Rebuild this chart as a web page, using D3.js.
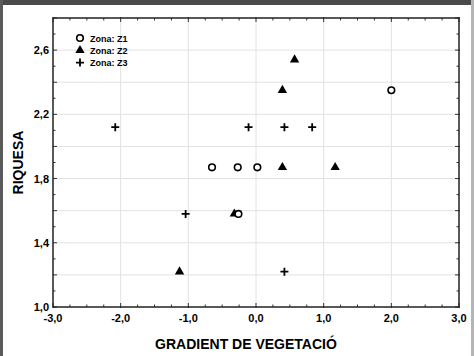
<!DOCTYPE html>
<html><head><meta charset="utf-8">
<script src="https://cdn.jsdelivr.net/npm/d3@7"></script>
<style>body{margin:0;background:#fff}svg{display:block}</style>
</head><body>
<script>
const z1X = [2.0, -0.65, -0.27, 0.02, -0.26];
const z1Y = [2.35, 1.87, 1.87, 1.87, 1.58];
const z2X = [0.57, 0.39, 0.39, 1.17, -0.32, -1.13];
const z2Y = [2.54, 2.35, 1.87, 1.87, 1.58, 1.22];
const z3X = [-2.08, -0.11, 0.42, 0.83, -1.04, 0.42];
const z3Y = [2.12, 2.12, 2.12, 2.12, 1.58, 1.22];
const xTicks = [-3, -2, -1, 0, 1, 2, 3];
const yTicks = [1.0, 1.4, 1.8, 2.2, 2.6];
const legendLabels = ["Zona: Z1", "Zona: Z2", "Zona: Z3"];

const W = 474, H = 356;
const svg = d3.select("body").append("svg").attr("width", W).attr("height", H);
svg.append("rect").attr("x",0).attr("y",0).attr("width",W).attr("height",5).attr("fill","#4a4a4a");
svg.append("rect").attr("x",0).attr("y",0).attr("width",3).attr("height",H).attr("fill","#5a5a5a");
svg.append("rect").attr("x",471).attr("y",0).attr("width",3).attr("height",H).attr("fill","#b5b5b5");

const L = 53, R = 459, T = 18, B = 307;
const x = d3.scaleLinear().domain([-3, 3]).range([L, R]);
const y = d3.scaleLinear().domain([1.0, 2.8]).range([B, T]);

const fmt = d => d.toFixed(1).replace(".", ",");
const g = svg.append("g");
g.selectAll(".gx").data(d3.range(-2, 3, 1)).join("line")
  .attr("x1", d => x(d)).attr("x2", d => x(d)).attr("y1", T).attr("y2", B)
  .attr("stroke", "#e2e2e2").attr("stroke-width", 1);
g.selectAll(".gy").data(d3.range(1.2, 2.79, 0.2)).join("line")
  .attr("y1", d => y(d)).attr("y2", d => y(d)).attr("x1", L).attr("x2", R)
  .attr("stroke", "#e2e2e2").attr("stroke-width", 1);

const xMinor = d3.range(-3, 3.001, 0.25);
const yMinor = d3.range(1.0, 2.801, 0.1);
const isMajX = d => Math.abs(d - Math.round(d)) < 1e-6;
const isMajY = d => Math.abs(d*5 - Math.round(d*5)) < 1e-6;
xMinor.forEach(d => {
  const len = isMajX(d) ? 4 : 2.5;
  g.append("line").attr("x1", x(d)).attr("x2", x(d)).attr("y1", B - len).attr("y2", B + (isMajX(d)?1:0)).attr("stroke","#333");
  g.append("line").attr("x1", x(d)).attr("x2", x(d)).attr("y1", T + len).attr("y2", T - (isMajX(d)?1:0)).attr("stroke","#333");
});
yMinor.forEach(d => {
  const len = isMajY(d) ? 4 : 2.5;
  g.append("line").attr("y1", y(d)).attr("y2", y(d)).attr("x1", L).attr("x2", L + len).attr("stroke","#333");
  g.append("line").attr("y1", y(d)).attr("y2", y(d)).attr("x1", R - len).attr("x2", R + (isMajY(d)?1:0)).attr("stroke","#333");
});
g.append("rect").attr("x", L).attr("y", T).attr("width", R - L).attr("height", B - T)
  .attr("fill", "none").attr("stroke", "#222").attr("stroke-width", 1.5);

const font = "Liberation Sans, Arial, sans-serif";
g.selectAll(".xl").data(xTicks).join("text")
  .attr("x", d => x(d)).attr("y", B + 15).attr("text-anchor", "middle")
  .attr("font-family", font).attr("font-weight", "bold").attr("font-size", 11).text(fmt);
g.selectAll(".yl").data(yTicks).join("text")
  .attr("x", L - 4).attr("y", d => y(d) + 4).attr("text-anchor", "end")
  .attr("font-family", font).attr("font-weight", "bold").attr("font-size", 11).text(fmt);

svg.append("text").attr("x", (L + R) / 2 - 10).attr("y", 349).attr("text-anchor", "middle")
  .attr("font-family", font).attr("font-weight", "bold").attr("font-size", 14).text("GRADIENT DE VEGETACIÓ");
svg.append("text").attr("transform", `translate(23,${(T + B) / 2}) rotate(-90)`).attr("text-anchor", "middle")
  .attr("font-family", font).attr("font-weight", "bold").attr("font-size", 14).text("RIQUESA");

const tri = d3.symbol().type(d3.symbolTriangle).size(38);
function drawCircle(sel, cx, cy) {
  sel.append("circle").attr("cx", cx).attr("cy", cy).attr("r", 3.3).attr("fill", "#fff").attr("stroke", "#000").attr("stroke-width", 1.6);
}
function drawTri(sel, cx, cy) {
  sel.append("path").attr("d", tri()).attr("transform", `translate(${cx},${cy})`).attr("fill", "#000");
}
function drawPlus(sel, cx, cy) {
  sel.append("path").attr("d", `M${cx-4},${cy}H${cx+4}M${cx},${cy-4}V${cy+4}`).attr("stroke", "#000").attr("stroke-width", 1.8);
}
const m = svg.append("g");
z2X.forEach((d, i) => drawTri(m, x(d), y(z2Y[i])));
z3X.forEach((d, i) => drawPlus(m, x(d), y(z3Y[i])));
z1X.forEach((d, i) => drawCircle(m, x(d), y(z1Y[i])));

const lg = svg.append("g");
const drawers = [drawCircle, drawTri, drawPlus];
legendLabels.forEach((t, i) => {
  const ly = 38 + i * 12.3;
  drawers[i](lg, 80, ly);
  lg.append("text").attr("x", 90).attr("y", ly + 3.5).attr("font-family", font)
    .attr("font-weight", "bold").attr("font-size", 9).text(t);
});
</script>
</body></html>
